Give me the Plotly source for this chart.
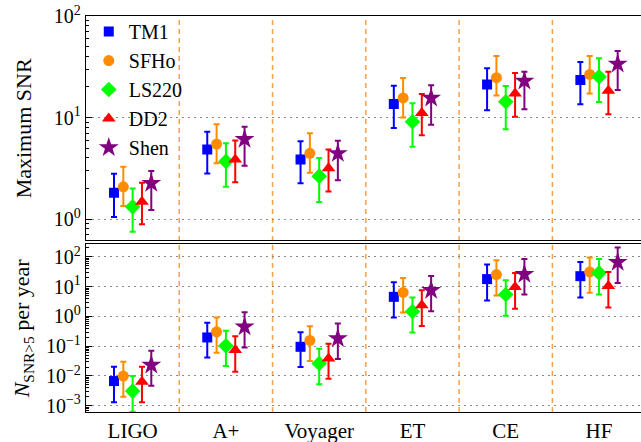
import plotly.graph_objects as go

categories = ["LIGO", "A+", "Voyager", "ET", "CE", "HF"]
models = ["TM1", "SFHo", "LS220", "DD2", "Shen"]

# Maximum SNR (value, upper end, lower end)
tm1_snr = [1.82, 4.86, 3.87, 13.6, 21.2, 23.4]
tm1_snr_hi = [2.8, 7.25, 5.83, 20.6, 30.5, 35.2]
tm1_snr_lo = [1.05, 2.82, 2.25, 7.88, 11.8, 13.5]

sfho_snr = [2.08, 5.48, 4.44, 15.6, 24.7, 26.6]
sfho_snr_hi = [3.27, 8.57, 6.99, 24.5, 40.4, 40.4]
sfho_snr_lo = [1.35, 3.54, 2.86, 10.0, 16.5, 17.3]

ls220_snr = [1.32, 3.70, 2.65, 9.1, 14.3, 25.2]
ls220_snr_hi = [2.0, 5.57, 3.99, 13.8, 20.4, 38.3]
ls220_snr_lo = [0.75, 2.08, 1.47, 5.15, 7.65, 14.2]

dd2_snr = [1.48, 3.87, 3.16, 11.1, 17.3, 18.4]
dd2_snr_hi = [2.28, 5.96, 4.86, 17.1, 27.4, 28.3]
dd2_snr_lo = [0.89, 2.31, 1.87, 6.68, 10.2, 10.8]

shen_snr = [2.25, 6.1, 4.44, 15.6, 22.9, 33.7]
shen_snr_hi = [2.97, 8.11, 5.91, 20.8, 28.3, 45.2]
shen_snr_lo = [1.23, 3.35, 2.42, 8.49, 12.1, 18.7]

# N_{SNR>5} per year (value, upper end, lower end)
tm1_rate = [0.00675, 0.197, 0.0955, 4.55, 17.9, 22.5]
tm1_rate_hi = [0.0204, 0.61, 0.297, 14.2, 55.6, 67.9]
tm1_rate_lo = [0.0013, 0.042, 0.0199, 0.92, 3.44, 4.35]

sfho_rate = [0.0099, 0.304, 0.156, 6.4, 25.6, 31.4]
sfho_rate_hi = [0.030, 0.92, 0.47, 19.7, 77.4, 95.5]
sfho_rate_lo = [0.0020, 0.060, 0.0316, 1.36, 5.07, 6.2]

ls220_rate = [0.0031, 0.103, 0.0264, 1.47, 5.47, 29.0]
ls220_rate_hi = [0.0099, 0.33, 0.082, 4.35, 16.5, 85.8]
ls220_rate_lo = [0.00063, 0.0215, 0.0053, 0.29, 1.05, 5.47]

dd2_rate = [0.0064, 0.074, 0.039, 2.39, 9.84, 10.6]
dd2_rate_hi = [0.0204, 0.218, 0.12, 7.6, 29.0, 31.4]
dd2_rate_lo = [0.0013, 0.0138, 0.008, 0.48, 1.8, 2.0]

shen_rate = [0.0232, 0.448, 0.182, 7.6, 26.3, 66.4]
shen_rate_hi = [0.070, 1.39, 0.58, 23.0, 85.8, 206.0]
shen_rate_lo = [0.0047, 0.091, 0.037, 1.5, 5.47, 13.4]

snr_data = [
    (tm1_snr, tm1_snr_hi, tm1_snr_lo),
    (sfho_snr, sfho_snr_hi, sfho_snr_lo),
    (ls220_snr, ls220_snr_hi, ls220_snr_lo),
    (dd2_snr, dd2_snr_hi, dd2_snr_lo),
    (shen_snr, shen_snr_hi, shen_snr_lo),
]
rate_data = [
    (tm1_rate, tm1_rate_hi, tm1_rate_lo),
    (sfho_rate, sfho_rate_hi, sfho_rate_lo),
    (ls220_rate, ls220_rate_hi, ls220_rate_lo),
    (dd2_rate, dd2_rate_hi, dd2_rate_lo),
    (shen_rate, shen_rate_hi, shen_rate_lo),
]

colors = ["#0000ff", "#ff8c00", "#00ff00", "#ff0000", "#800080"]
symbols = ["square", "circle", "diamond", "triangle-up", "star"]
sizes = [10, 11, 12, 12, 15]
offsets = [-0.2, -0.1, 0.0, 0.1, 0.2]

FONT = "Liberation Serif"

fig = go.Figure()

for k, name in enumerate(models):
    xs = [i + offsets[k] for i in range(len(categories))]
    v, hi, lo = snr_data[k]
    fig.add_trace(go.Scatter(
        x=xs, y=v, mode="markers", name=name,
        marker=dict(symbol=symbols[k], color=colors[k], size=sizes[k], line=dict(width=0)),
        error_y=dict(type="data", symmetric=False,
                     array=[h - a for h, a in zip(hi, v)],
                     arrayminus=[a - l for a, l in zip(v, lo)],
                     color=colors[k], thickness=2, width=3),
        xaxis="x", yaxis="y", showlegend=True,
    ))
for k, name in enumerate(models):
    xs = [i + offsets[k] for i in range(len(categories))]
    v, hi, lo = rate_data[k]
    fig.add_trace(go.Scatter(
        x=xs, y=v, mode="markers", name=name,
        marker=dict(symbol=symbols[k], color=colors[k], size=sizes[k], line=dict(width=0)),
        error_y=dict(type="data", symmetric=False,
                     array=[h - a for h, a in zip(hi, v)],
                     arrayminus=[a - l for a, l in zip(v, lo)],
                     color=colors[k], thickness=2, width=3),
        xaxis="x2", yaxis="y2", showlegend=False,
    ))

# vertical dashed separators
for i in range(len(categories) - 1):
    fig.add_shape(type="line", xref="x", yref="paper", x0=i + 0.5, x1=i + 0.5, y0=0, y1=1,
                  line=dict(color="#f7a04a", width=1.5, dash="5px,4px"), layer="below")


def minor_vals(lo_exp, hi_exp):
    out = []
    for e in range(lo_exp, hi_exp):
        for m in range(2, 10):
            out.append(m * 10 ** e)
    return out


def sup(e):
    s = str(e).replace("-", "\u2212")
    return "10<sup>" + s + "</sup>"

xcommon = dict(range=[-0.5, 5.45], tickvals=list(range(len(categories))), ticktext=categories,
               showline=True, linecolor="black", linewidth=1.3, mirror=True, ticks="",
               showgrid=False, zeroline=False)

GRID = dict(showgrid=True, gridcolor="#8a8a8a", griddash="1.5px,4.5px", gridwidth=1.2, zeroline=False)

fig.update_layout(
    width=641, height=442,
    margin=dict(l=86, r=0, t=16, b=30),
    paper_bgcolor="white", plot_bgcolor="white",
    font=dict(family=FONT, size=20, color="black"),
    xaxis=dict(xcommon, anchor="y", showticklabels=False),
    xaxis2=dict(xcommon, anchor="y2", showticklabels=True, tickfont=dict(family=FONT, size=21)),
    yaxis=dict(type="log", domain=[0.434, 1.0], range=[-0.207, 2.0], anchor="x",
               tickvals=[1, 10, 100], ticktext=[sup(0), sup(1), sup(2)],
               tickfont=dict(family=FONT, size=20),
               showline=True, linecolor="black", linewidth=1.3, mirror=True,
               ticks="inside", ticklen=6, tickcolor="black",
               minor=dict(tickvals=minor_vals(-1, 2), ticks="inside", ticklen=3, tickcolor="black",
                          showgrid=False),
               **GRID),
    yaxis2=dict(type="log", domain=[0.0, 0.424], range=[-3.21, 2.43], anchor="x2",
                tickvals=[10 ** e for e in range(-3, 3)], ticktext=[sup(e) for e in range(-3, 3)],
                tickfont=dict(family=FONT, size=20),
                showline=True, linecolor="black", linewidth=1.3, mirror=True,
                ticks="inside", ticklen=6, tickcolor="black",
                minor=dict(tickvals=minor_vals(-4, 3), ticks="inside", ticklen=3, tickcolor="black",
                           showgrid=False),
                **GRID),
    legend=dict(x=0.005, y=1.01, xanchor="left", yanchor="top", bgcolor="rgba(0,0,0,0)",
                font=dict(family=FONT, size=20, color="black"),
                itemwidth=30, tracegroupgap=0),
    showlegend=True,
)

fig.add_annotation(text="Maximum SNR", xref="paper", yref="paper", x=-0.113, y=0.717,
                   textangle=-90, showarrow=False, xanchor="center", yanchor="middle",
                   font=dict(family=FONT, size=22))
fig.add_annotation(text="<i>N</i><sub>SNR&gt;5</sub> per year", xref="paper", yref="paper",
                   x=-0.113, y=0.212, textangle=-90, showarrow=False, xanchor="center",
                   yanchor="middle", font=dict(family=FONT, size=22))

fig.write_html("out.html", config={"displayModeBar": False},
               post_script="document.body.style.margin='0';document.body.style.padding='0';")
